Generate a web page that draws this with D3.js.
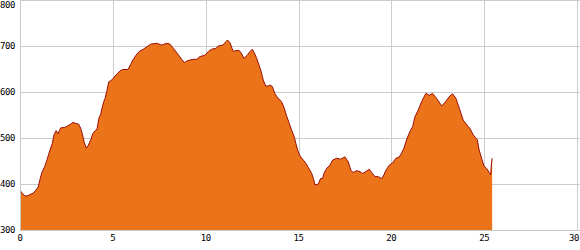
<!DOCTYPE html>
<html><head><meta charset="utf-8">
<script src="https://cdn.jsdelivr.net/npm/d3@7"></script>
<style>body{margin:0;background:#fff}svg{display:block}</style>
</head><body>
<svg id="c" width="580" height="250"></svg>
<script>
const distance = [0,0.11,0.27,0.38,0.54,0.70,0.82,0.97,1.02,1.09,1.18,1.33,1.45,1.56,1.74,1.83,1.95,2.05,2.12,2.19,2.41,2.55,2.73,2.85,2.98,3.16,3.27,3.35,3.45,3.57,3.66,3.81,3.93,4.05,4.15,4.20,4.25,4.35,4.42,4.51,4.58,4.67,4.78,4.94,5.17,5.39,5.55,5.82,5.96,6.10,6.25,6.42,6.64,6.82,7.04,7.36,7.63,7.90,8.08,8.26,8.47,8.71,8.85,9.01,9.33,9.52,9.69,9.96,10.14,10.32,10.55,10.68,10.92,11.08,11.18,11.31,11.42,11.49,11.62,11.81,11.94,12.06,12.24,12.39,12.51,12.62,12.75,12.87,12.99,13.10,13.23,13.37,13.46,13.59,13.73,13.91,14.09,14.23,14.36,14.50,14.63,14.76,14.86,14.95,15.08,15.26,15.40,15.53,15.71,15.80,15.89,16.07,16.19,16.30,16.37,16.52,16.69,16.84,17.05,17.27,17.50,17.68,17.82,17.95,18.13,18.31,18.45,18.63,18.81,18.94,19.12,19.29,19.48,19.60,19.71,19.89,20.07,20.25,20.43,20.55,20.68,20.82,21.00,21.15,21.27,21.45,21.63,21.86,22.04,22.22,22.44,22.71,22.89,23.12,23.30,23.48,23.69,23.87,24.14,24.23,24.41,24.63,24.73,24.86,24.99,25.13,25.27,25.35,25.38,25.43];
const elevation = [387,380,374,374,377,380,385,393,400,412,425,438,452,467,488,507,516,509,516,522,523,526,530,534,532,530,521,510,492,478,483,496,510,516,519,532,543,552,565,579,586,601,622,626,637,646,649,649,660,671,680,688,693,698,704,706,702,706,704,695,684,671,664,668,671,671,677,680,688,693,695,700,702,709,713,707,695,688,690,690,683,673,680,688,693,685,673,659,644,626,613,613,615,612,596,586,579,565,548,532,517,504,488,474,461,452,445,436,423,412,398,400,412,412,423,434,441,452,456,454,459,448,430,425,429,427,423,427,432,425,416,416,412,420,430,441,446,456,459,467,478,496,514,525,546,561,579,597,593,597,586,570,577,590,596,586,561,539,525,521,507,496,474,456,439,434,425,420,439,456];
const xTicks = [0,5,10,15,20,25,30];
const yTicks = [300,400,500,600,700,800];

const data = distance.map((d,i)=>({d, e: elevation[i]}));
const svg = d3.select("#c");
const x = d3.scaleLinear().domain([0,30]).range([20,577]);
const y = d3.scaleLinear().domain([300,800]).range([230,0]);
const px = v => Math.round(v) + 0.5;

const grid = svg.append("g").attr("stroke","#cccccc").attr("stroke-width",1).attr("shape-rendering","crispEdges");
grid.selectAll("line.h").data(yTicks).join("line")
  .attr("x1",20).attr("x2",580).attr("y1",d=>px(y(d))).attr("y2",d=>px(y(d)));
grid.selectAll("line.v").data(xTicks).join("line")
  .attr("x1",d=>px(x(d))).attr("x2",d=>px(x(d))).attr("y1",0).attr("y2",230);

const area = d3.area().x(d=>x(d.d)).y0(y(300)).y1(d=>y(d.e)).curve(d3.curveLinear);
svg.append("path").datum(data).attr("d",area).attr("fill","#EB731A");
const line = d3.line().x(d=>x(d.d)).y(d=>y(d.e));
svg.append("path").datum(data).attr("d",line).attr("fill","none").attr("stroke","#9a0d05").attr("stroke-width",1);

// axes lines
svg.append("line").attr("x1",20.5).attr("x2",20.5).attr("y1",0).attr("y2",231).attr("stroke","#c8c8c8").attr("shape-rendering","crispEdges");
svg.append("line").attr("x1",20).attr("x2",580).attr("y1",230.5).attr("y2",230.5).attr("stroke","#c8c8c8").attr("shape-rendering","crispEdges");

const font = "'DejaVu Sans Mono', monospace";
svg.append("g").selectAll("text").data(yTicks).join("text")
  .attr("x",0).attr("y",d=>Math.max(y(d),5)).attr("dy","0.35em")
  .attr("font-family",font).attr("font-size",9).attr("letter-spacing",-0.4).attr("fill","#000")
  .text(d=>d);
svg.append("g").selectAll("text").data(xTicks).join("text")
  .attr("x",d=>Math.min(x(d), 574)).attr("y",241)
  .attr("text-anchor","middle")
  .attr("font-family",font).attr("font-size",9).attr("letter-spacing",-0.4).attr("fill","#000")
  .text(d=>d);
</script>
</body></html>
